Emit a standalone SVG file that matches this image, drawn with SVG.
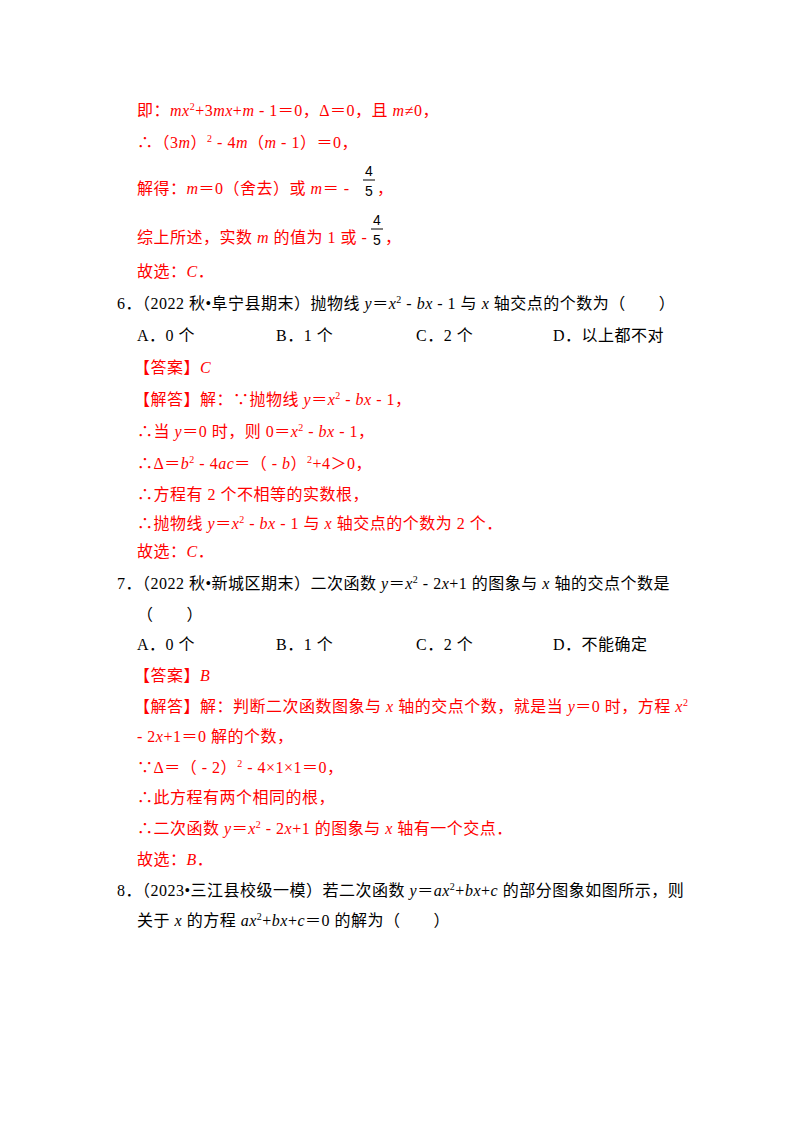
<svg xmlns="http://www.w3.org/2000/svg" width="800" height="1132" viewBox="0 0 800 1132">
<style>
text{font-family:"Liberation Serif","Noto Sans CJK SC",serif;font-size:16px;fill:#000;letter-spacing:0.5px}
.r{fill:#ff0000}
.i{font-style:italic}
.s{font-size:10px}
.f{font-family:"Liberation Sans","Noto Sans CJK SC",sans-serif;font-size:14px}
</style>
<rect width="800" height="1132" fill="#fff"/>
<g id="sol5">
<text class="r" x="137" y="116">即：<tspan class="i">mx</tspan><tspan class="s" dy="-6">2</tspan><tspan dy="6">+3</tspan><tspan class="i">mx</tspan>+<tspan class="i">m</tspan> - 1＝0，Δ＝0，且 <tspan class="i">m</tspan>≠0，</text>
<text class="r" x="137" y="148">∴（3<tspan class="i">m</tspan>）<tspan class="s" dy="-6">2</tspan><tspan dy="6"> - 4</tspan><tspan class="i">m</tspan>（<tspan class="i">m</tspan> - 1）＝0，</text>
<text class="r" x="137" y="194">解得：<tspan class="i">m</tspan>＝0（舍去）或 <tspan class="i">m</tspan>＝ - </text>
<text class="f" x="365" y="176">4</text><line x1="363" y1="180" x2="375" y2="180" stroke="#000"/><text class="f" x="365" y="196">5</text>
<text class="r" x="377" y="194">，</text>
<text class="r" x="137" y="243">综上所述，实数 <tspan class="i">m</tspan> 的值为 1 或 - </text>
<text class="f" x="373" y="225">4</text><line x1="371" y1="229" x2="383" y2="229" stroke="#000"/><text class="f" x="373" y="245">5</text>
<text class="r" x="385" y="243">，</text>
<text class="r" x="137" y="277">故选：<tspan class="i">C</tspan>．</text>
</g>
<g id="q6">
<text x="117" y="309">6．（2022 秋•阜宁县期末）抛物线 <tspan class="i">y</tspan>＝<tspan class="i">x</tspan><tspan class="s" dy="-6">2</tspan><tspan dy="6"> - </tspan><tspan class="i">bx</tspan> - 1 与 <tspan class="i">x</tspan> 轴交点的个数为（　　）</text>
<text x="137" y="341">A．0 个</text>
<text x="276" y="341">B．1 个</text>
<text x="416" y="341">C．2 个</text>
<text x="553" y="341">D．以上都不对</text>
<text class="r" x="134" y="373">【答案】<tspan class="i">C</tspan></text>
<text class="r" x="134" y="405">【解答】解：∵抛物线 <tspan class="i">y</tspan>＝<tspan class="i">x</tspan><tspan class="s" dy="-6">2</tspan><tspan dy="6"> - </tspan><tspan class="i">bx</tspan> - 1，</text>
<text class="r" x="137" y="437">∴当 <tspan class="i">y</tspan>＝0 时，则 0＝<tspan class="i">x</tspan><tspan class="s" dy="-6">2</tspan><tspan dy="6"> - </tspan><tspan class="i">bx</tspan> - 1，</text>
<text class="r" x="137" y="469">∴Δ＝<tspan class="i">b</tspan><tspan class="s" dy="-6">2</tspan><tspan dy="6"> - 4</tspan><tspan class="i">ac</tspan>＝（ - <tspan class="i">b</tspan>）<tspan class="s" dy="-6">2</tspan><tspan dy="6">+4＞0，</tspan></text>
<text class="r" x="137" y="500">∴方程有 2 个不相等的实数根，</text>
<text class="r" x="137" y="529">∴抛物线 <tspan class="i">y</tspan>＝<tspan class="i">x</tspan><tspan class="s" dy="-6">2</tspan><tspan dy="6"> - </tspan><tspan class="i">bx</tspan> - 1 与 <tspan class="i">x</tspan> 轴交点的个数为 2 个．</text>
<text class="r" x="137" y="557">故选：<tspan class="i">C</tspan>．</text>
</g>
<g id="q7">
<text x="117" y="589">7．（2022 秋•新城区期末）二次函数 <tspan class="i">y</tspan>＝<tspan class="i">x</tspan><tspan class="s" dy="-6">2</tspan><tspan dy="6"> - 2</tspan><tspan class="i">x</tspan>+1 的图象与 <tspan class="i">x</tspan> 轴的交点个数是</text>
<text x="137" y="620">（　　）</text>
<text x="137" y="650">A．0 个</text>
<text x="276" y="650">B．1 个</text>
<text x="416" y="650">C．2 个</text>
<text x="553" y="650">D．不能确定</text>
<text class="r" x="134" y="681">【答案】<tspan class="i">B</tspan></text>
<text class="r" x="134" y="712">【解答】解：判断二次函数图象与 <tspan class="i">x</tspan> 轴的交点个数，就是当 <tspan class="i">y</tspan>＝0 时，方程 <tspan class="i">x</tspan><tspan class="s" dy="-6">2</tspan></text>
<text class="r" x="137" y="742"> - 2<tspan class="i">x</tspan>+1＝0 解的个数，</text>
<text class="r" x="137" y="773">∵Δ＝（ - 2）<tspan class="s" dy="-6">2</tspan><tspan dy="6"> - 4×1×1＝0，</tspan></text>
<text class="r" x="137" y="803">∴此方程有两个相同的根，</text>
<text class="r" x="137" y="834">∴二次函数 <tspan class="i">y</tspan>＝<tspan class="i">x</tspan><tspan class="s" dy="-6">2</tspan><tspan dy="6"> - 2</tspan><tspan class="i">x</tspan>+1 的图象与 <tspan class="i">x</tspan> 轴有一个交点．</text>
<text class="r" x="137" y="865">故选：<tspan class="i">B</tspan>．</text>
</g>
<g id="q8">
<text x="117" y="896">8．（2023•三江县校级一模）若二次函数 <tspan class="i">y</tspan>＝<tspan class="i">ax</tspan><tspan class="s" dy="-6">2</tspan><tspan dy="6">+</tspan><tspan class="i">bx</tspan>+<tspan class="i">c</tspan> 的部分图象如图所示，则</text>
<text x="137" y="926">关于 <tspan class="i">x</tspan> 的方程 <tspan class="i">ax</tspan><tspan class="s" dy="-6">2</tspan><tspan dy="6">+</tspan><tspan class="i">bx</tspan>+<tspan class="i">c</tspan>＝0 的解为（　　）</text>
</g>
<g id="connectors"/>
</svg>
